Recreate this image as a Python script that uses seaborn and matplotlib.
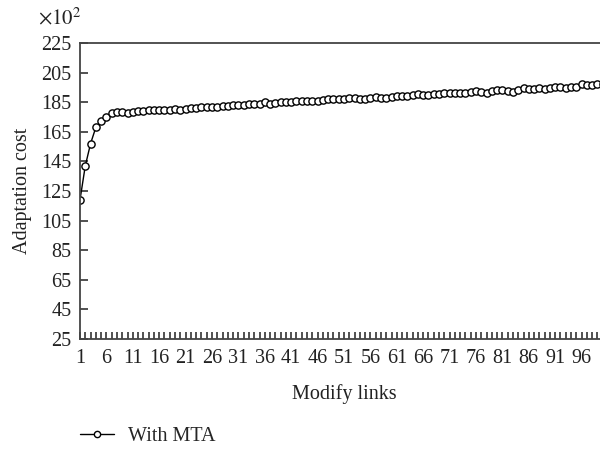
import numpy as np
import pandas as pd
import matplotlib
matplotlib.use("Agg")
import matplotlib.pyplot as plt
import seaborn as sns

# data (values in units of 10^2)
modify_links = list(range(1, 101))
adaptation_cost = [
    119, 142, 157, 168, 172, 175, 178, 178.5, 178.5, 178,
    178.5, 179, 179, 179.5, 179.5, 180, 180, 180, 180.5, 180,
    180.5, 181, 181, 181.5, 181.5, 182, 182, 182.5, 182.5, 183,
    183, 183, 183.5, 183.5, 184, 185, 184, 184.5, 185, 185,
    185, 185.5, 185.5, 186, 186, 186, 186.5, 187, 187, 187,
    187, 188, 188, 187.5, 187, 188, 188.5, 188, 188, 188.5,
    189, 189, 189.5, 190, 190.5, 190, 190, 190.5, 190.5, 191,
    191, 191.5, 191, 191.5, 192, 192.5, 192, 191.5, 192.5, 193,
    193, 192.5, 192, 193.5, 194.5, 194, 194, 194.5, 194, 194.5,
    195, 195, 194.5, 195, 195.5, 197, 196.5, 196.5, 197, 197.5,
]
series_name = "With MTA"
y_ticks = [25, 45, 65, 85, 105, 125, 145, 165, 185, 205, 225]
x_tick_labels = list(range(1, 97, 5))

df = pd.DataFrame({"x": modify_links, "y": adaptation_cost, "s": series_name})

sns.set_style("ticks")
plt.rcParams["font.family"] = ["Liberation Serif", "DejaVu Serif"]
plt.rcParams["mathtext.fontset"] = "stix"

FS = 14.5
TXT = "#222222"

fig = plt.figure(figsize=(6, 4.49), dpi=100)
W, H = 600, 449
ax = fig.add_axes([80 / W, (H - 339) / H, 528 / W, 296 / H])

sns.lineplot(
    data=df, x="x", y="y", hue="s", palette=["black"],
    marker="o", markersize=5.2, markerfacecolor="white",
    markeredgecolor="black", markeredgewidth=1.0,
    linewidth=1.0, ax=ax, legend=True
)

ax.set_xlim(1, 101)
ax.set_ylim(25, 225)
ax.set_yticks(y_ticks)
ax.set_xticks(modify_links, minor=True)
ax.set_xticks(x_tick_labels)
ax.tick_params(axis="both", which="both", direction="in", labelsize=FS,
               color="#333333", labelcolor=TXT)
ax.tick_params(axis="y", length=6, width=1.2, pad=6)
ax.tick_params(axis="x", which="both", length=5, width=1.2, pad=7)

for s in ax.spines.values():
    s.set_color("#444444")
    s.set_linewidth(1.3)

ax.set_xlabel("Modify links", fontsize=FS, color=TXT, labelpad=12)
ax.set_ylabel("Adaptation cost", fontsize=FS, color=TXT, labelpad=7)

fig.text(60 / W, 1 - 19 / H, r"$\times10^2$", fontsize=FS + 0.5, ha="center",
         va="center", color=TXT)

leg = ax.legend(loc="center left", bbox_to_anchor=(80 / W, 1 - 436 / H),
                bbox_transform=fig.transFigure, frameon=False, fontsize=FS,
                handlelength=1.7, handletextpad=0.7, borderaxespad=0,
                borderpad=0)
for h in leg.legend_handles:
    h.set_markersize(4.5)

fig.savefig("out.png", dpi=100)
